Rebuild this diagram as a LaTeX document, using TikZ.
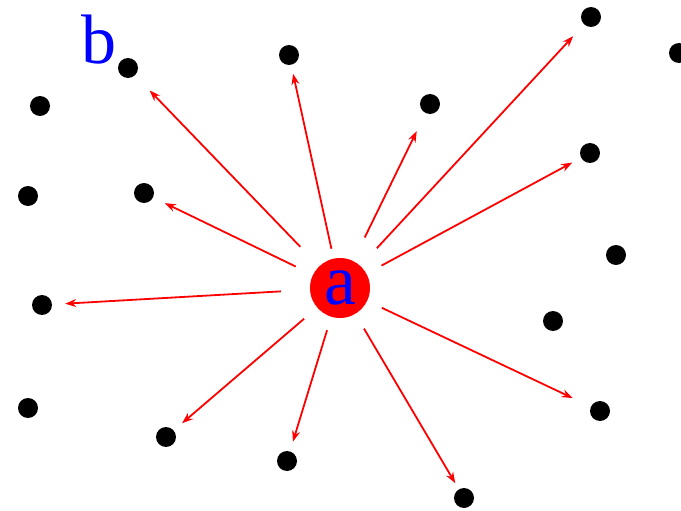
\documentclass[tikz,border=0pt]{standalone}
\usepackage{fontspec}
\setmainfont{Liberation Serif}
\usepackage{tikz}
\usetikzlibrary{arrows.meta}
\definecolor{pRed}{RGB}{255, 0, 0}
\definecolor{pBlue}{RGB}{0, 0, 255}

\begin{document}
\begin{tikzpicture}[x=1pt, y=-1pt,
    pt/.style={circle, fill=black, inner sep=0pt, minimum size=20pt},
    src/.style={circle, fill=pRed, inner sep=0pt, minimum size=60pt,
                text=pBlue, font=\fontsize{72}{72}\selectfont},
    ray/.style={-{Stealth[length=11pt, width=8pt]}, color=pRed, line width=1.8pt}]
    \useasboundingbox (0,0) rectangle (681,511);
    % the centre point
    \node[src] (a) at (340,288) {a};
    % points that get a ray
    \foreach \n/\x/\y in {p1/128/68, p2/289/55, p3/430/104, p4/591/17,
                          p5/590/153, p6/144/193, p7/42/305, p8/166/437,
                          p9/287/461, p10/464/498, p11/600/411}{
      \node[pt] (\n) at (\x,\y) {};
    }
    % points without one
    \foreach \n/\x/\y in {q1/40/106, q2/28/196, q3/679/53, q4/616/255,
                          q5/553/321, q6/28/408}{
      \node[pt] (\n) at (\x,\y) {};
    }
    \node[text=pBlue, font=\fontsize{70}{70}\selectfont] (b) at (99,40) {b};
    % rays from a
    \foreach \n/\s/\e in {p1/27/21, p2/10/9, p3/26/20, p4/24/16, p5/17/10,
                          p6/19/13, p7/29/13, p8/17/11, p9/14/10, p10/17/7,
                          p11/16/20}{
      \draw[ray, shorten <=\s pt, shorten >=\e pt] (a) -- (\n);
    }
  \end{tikzpicture}
\end{document}
